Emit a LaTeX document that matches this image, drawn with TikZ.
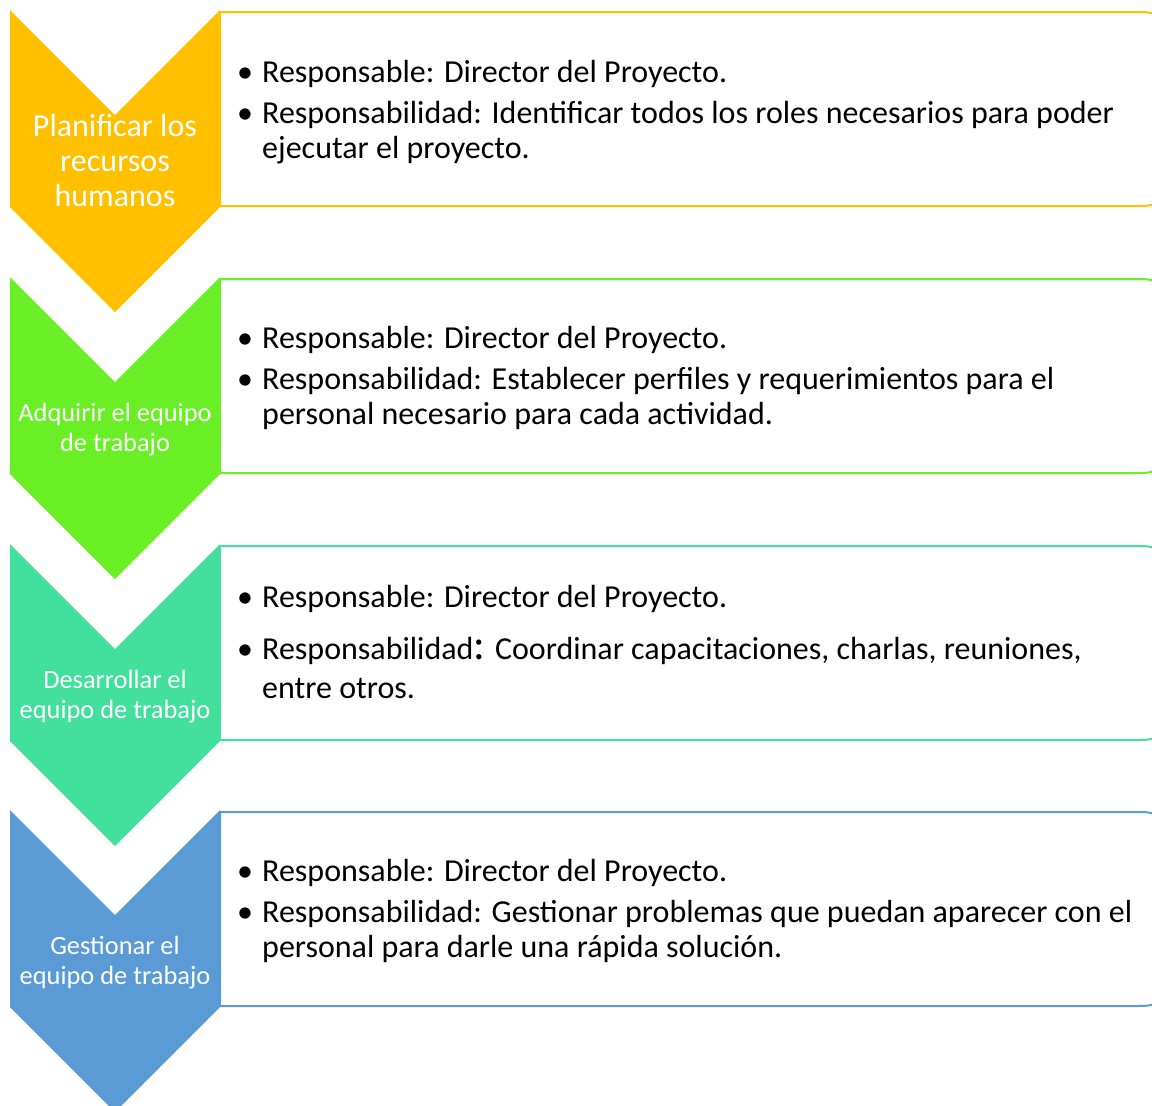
\documentclass[tikz,border=0pt]{standalone}
\usepackage{fontspec}
\setmainfont{Carlito}
\definecolor{cA}{HTML}{FFC000}
\definecolor{cB}{HTML}{6AEF26}
\definecolor{cC}{HTML}{42E09C}
\definecolor{cD}{HTML}{5B9BD5}
\tikzset{
  chev/.style={fill=#1, draw=none},
  boxline/.style={draw=#1, line width=2pt, fill=white},
  chevbig/.style={text=white, align=center, font=\fontsize{32}{35}\selectfont, inner sep=0pt},
  chevsmall/.style={text=white, align=center, font=\fontsize{26.4}{29.5}\selectfont, inner sep=0pt},
  btext/.style={anchor=base west, inner sep=0pt, font=\fontsize{32}{35}\selectfont},
  bul/.style={anchor=base, inner sep=0pt, font=\fontsize{32}{35}\selectfont}
}
\newcommand{\stage}[2]{%
  \fill[chev=#2] (10,#1) -- (115,#1+105) -- (220,#1) -- (220,#1+197) -- (115,#1+302) -- (10,#1+197) -- cycle;
  \draw[boxline=#2] (220,#1+2) -- (1133,#1+2) .. controls (1158,#1+2) .. (1158,#1+27) -- (1158,#1+171) .. controls (1158,#1+196) .. (1133,#1+196) -- (220,#1+196) -- cycle;
}
\newcommand{\lines}[1]{\begin{tabular}[t]{@{}l@{}}#1\end{tabular}}
\begin{document}
\begin{tikzpicture}[x=1pt,y=-1pt]
\useasboundingbox (0,0) rectangle (1152,1106);
\clip (0,0) rectangle (1152,1106);
\stage{10}{cA}
\stage{277}{cB}
\stage{544}{cC}
\stage{810}{cD}
% chevron labels
\node[chevbig] (l1) at (115,161) {Planificar los\\recursos\\humanos};
\node[chevsmall] (l2) at (115,429.5) {Adquirir el equipo\\de trabajo};
\node[chevsmall] (l3) at (115,696.5) {Desarrollar el\\equipo de trabajo};
\node[chevsmall] (l4) at (115,962.5) {Gestionar el\\equipo de trabajo};
% box 1
\node[bul] (b1a) at (245,82) {•};
\node[btext] (t1a) at (262,82) {Responsable: Director del Proyecto.};
\node[bul] (b1b) at (245,123) {•};
\node[btext] (t1b) at (262,123) {\lines{Responsabilidad: Identificar todos los roles necesarios para poder\\ejecutar el proyecto.}};
% box 2
\node[bul] (b2a) at (245,348) {•};
\node[btext] (t2a) at (262,348) {Responsable: Director del Proyecto.};
\node[bul] (b2b) at (245,389) {•};
\node[btext] (t2b) at (262,389) {\lines{Responsabilidad: Establecer perfiles y requerimientos para el\\personal necesario para cada actividad.}};
% box 3
\node[bul] (b3a) at (245,607) {•};
\node[btext] (t3a) at (262,607) {Responsable: Director del Proyecto.};
\node[bul] (b3b) at (245,659) {•};
\node[btext] (t3b) at (262,659) {\lines{Responsabilidad{\fontsize{44}{35}\selectfont:} Coordinar capacitaciones, charlas, reuniones,\\[4pt]entre otros.}};
% box 4
\node[bul] (b4a) at (245,881) {•};
\node[btext] (t4a) at (262,881) {Responsable: Director del Proyecto.};
\node[bul] (b4b) at (245,922) {•};
\node[btext] (t4b) at (262,922) {\lines{Responsabilidad: Gestionar problemas que puedan aparecer con el\\personal para darle una rápida solución.}};
\end{tikzpicture}
\end{document}
